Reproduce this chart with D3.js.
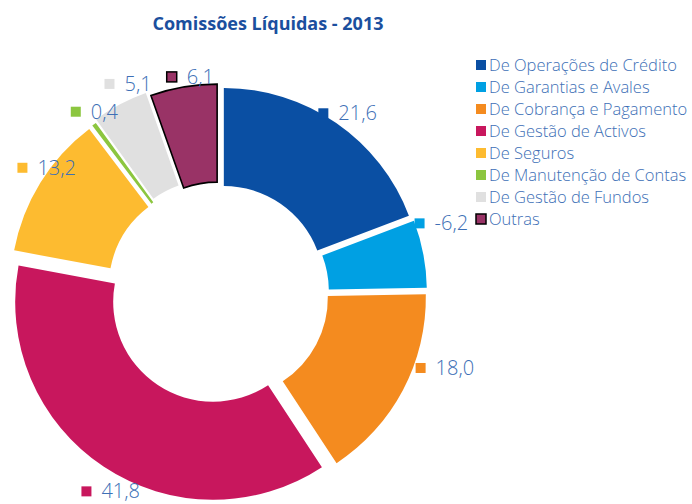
<!DOCTYPE html>
<html>
  <head>
    <meta http-equiv="Content-type" content="text/html; charset=utf-8">
    <title>Comissões Líquidas - 2013</title>
    <script src="https://d3js.org/d3.v7.min.js"></script>
    <style>
      body { margin: 0; background: #fff; }
      text { font-family: "Open Sans", sans-serif; }
    </style>
  </head>
  <body>
  <div id="chart"></div>
  <script type="text/javascript">
    var categories = [
      'De Operações de Crédito',
      'De Garantias e Avales',
      'De Cobrança e Pagamento',
      'De Gestão de Activos',
      'De Seguros',
      'De Manutenção de Contas',
      'De Gestão de Fundos',
      'Outras'
    ];
    // slice sizes; the label text is kept as printed (note the -6,2)
    var values = [21.6, 6.2, 18.0, 41.8, 13.2, 0.4, 5.1, 6.1];
    var valueLabels = ['21,6', '-6,2', '18,0', '41,8', '13,2', '0,4', '5,1', '6,1'];
    var colors = ['#0a4fa3', '#00a0e3', '#f48b1f', '#c8175d', '#fdbb30', '#8cc63f', '#e0e0e0', '#993366'];

    // styling
    var pullOut = [8.5, 10, 10, 10.5, 12, 12, 15, 11];
    var labelShift = [1, -6.5, -9.5, -5, 4.3, 2, 4.2, 2.2];
    var labelDist = [221, 233, 238, 226, 213, 220, 228, 218];

    var width = 692, height = 504;
    var cx = 219, cy = 293;
    var outerR = 198, innerR = 100;
    var textBlue = '#3d6fb6';

    var svg = d3.select('#chart').append('svg')
      .attr('width', width)
      .attr('height', height);

    svg.append('text')
      .attr('x', 268)
      .attr('y', 30)
      .attr('text-anchor', 'middle')
      .attr('font-size', 18)
      .attr('font-weight', 'bold')
      .attr('fill', '#1b4f9e')
      .text('Comissões Líquidas - 2013');

    var pie = d3.pie().value(function(d) { return d; }).sort(null);
    var arc = d3.arc().innerRadius(innerR).outerRadius(outerR);
    var arcs = pie(values);

    var g = svg.append('g').attr('transform', 'translate(' + cx + ',' + cy + ')');

    g.selectAll('path')
      .data(arcs)
      .enter()
      .append('path')
      .attr('d', arc)
      .attr('transform', function(d, i) {
        var a = (d.startAngle + d.endAngle) / 2;
        return 'translate(' + (Math.sin(a) * pullOut[i]) + ',' + (-Math.cos(a) * pullOut[i]) + ')';
      })
      .attr('fill', function(d, i) { return colors[i]; })
      .attr('stroke', function(d, i) { return i === 7 ? '#000' : 'none'; })
      .attr('stroke-width', 1.6)
      .attr('stroke-linejoin', 'miter');

    // data labels: small key square + value
    var labels = g.selectAll('g.lbl')
      .data(arcs)
      .enter()
      .append('g')
      .attr('class', 'lbl');

    labels.each(function(d, i) {
      var sel = d3.select(this);
      var a = (d.startAngle + d.endAngle) / 2 + labelShift[i] * Math.PI / 180;
      var x = Math.sin(a) * labelDist[i], y = -Math.cos(a) * labelDist[i];
      var t = sel.append('text')
        .attr('font-size', 20)
        .attr('font-weight', 300)
        .attr('fill', textBlue)
        .attr('dy', '0.35em')
        .text(valueLabels[i]);
      var tw = t.node().getComputedTextLength();
      var left = x - (20 + tw) / 2;
      t.attr('x', left + 20).attr('y', y);
      sel.insert('rect', 'text')
        .attr('x', left)
        .attr('y', y - 5)
        .attr('width', 10)
        .attr('height', 10)
        .attr('fill', colors[i])
        .attr('stroke', i === 7 ? '#000' : 'none')
        .attr('stroke-width', 1.5);
    });

    // legend
    var legend = svg.append('g').attr('transform', 'translate(476,65)');
    var rows = legend.selectAll('g')
      .data(categories)
      .enter()
      .append('g')
      .attr('transform', function(d, i) { return 'translate(0,' + (i * 22) + ')'; });
    rows.append('rect')
      .attr('x', 0)
      .attr('y', -5)
      .attr('width', 10)
      .attr('height', 10)
      .attr('fill', function(d, i) { return colors[i]; })
      .attr('stroke', function(d, i) { return i === 7 ? '#000' : 'none'; })
      .attr('stroke-width', 1.5);
    rows.append('text')
      .attr('x', 13)
      .attr('dy', '0.35em')
      .attr('font-size', 16.5)
      .attr('font-weight', 300)
      .attr('fill', textBlue)
      .text(function(d) { return d; });
  </script>
  </body>
</html>
